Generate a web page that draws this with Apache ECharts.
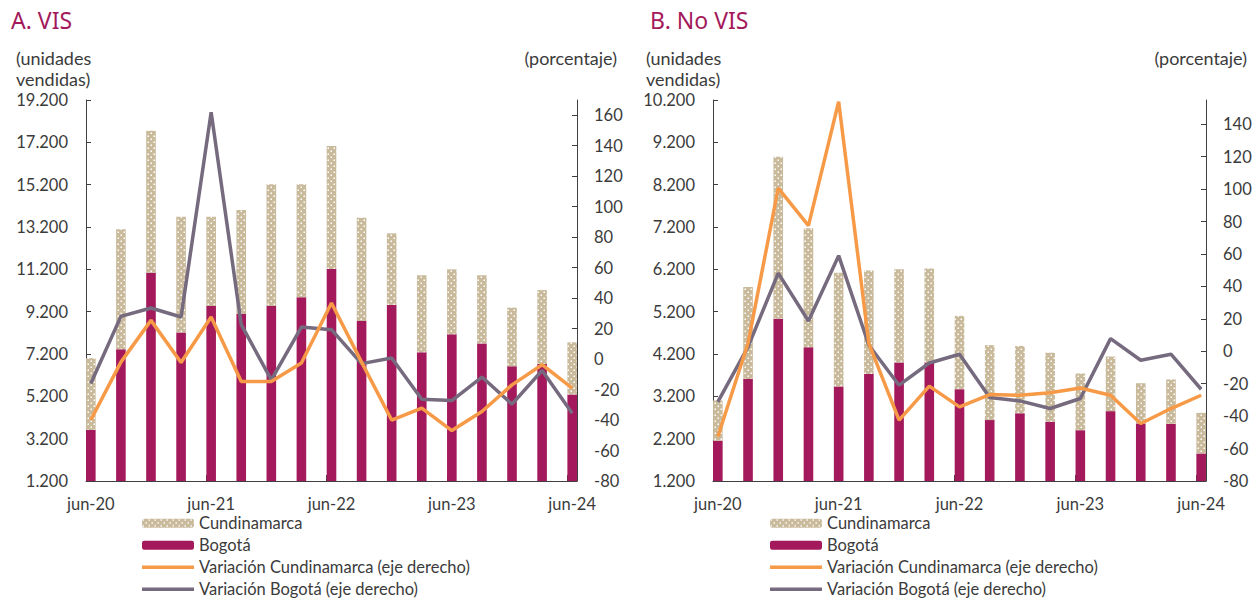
<!DOCTYPE html>
<html>
<head>
<meta charset="utf-8">
<script src="https://cdn.jsdelivr.net/npm/echarts@6/dist/echarts.min.js"></script>
<style>
html,body{margin:0;padding:0;background:#fff;}
#chart{width:1257px;height:599px;}
</style>
</head>
<body>
<div id="chart"></div>
<script>
// ---------- DATA ----------
const categories = ['jun-20','sep-20','dic-20','mar-21','jun-21','sep-21','dic-21','mar-22','jun-22','sep-22','dic-22','mar-23','jun-23','sep-23','dic-23','mar-24','jun-24'];
const xLabelIdx = [0, 4, 8, 12, 16];

// Panel A: VIS (unidades vendidas)
const bogotaA = [3610, 7420, 11040, 8210, 9470, 9090, 9470, 9880, 11220, 8760, 9520, 7280, 8130, 7700, 6620, 6730, 5290];
const cundinamarcaA = [3390, 5670, 6710, 5480, 4220, 4910, 5750, 5340, 5810, 4880, 3380, 3640, 3070, 3220, 2770, 3490, 2460];
const varCundA = [-40, -2, 25.4, -2.2, 27.6, -14.7, -14.7, -2.6, 36.8, -2, -40, -32.2, -46.9, -34.4, -16.9, -3.7, -19];
const varBogA = [-16, 28, 33.5, 27.6, 162, 22.6, -13.6, 21, 19.3, -3, 0.7, -26.3, -27.2, -11.8, -29.6, -7.5, -35.5];

// Panel B: No VIS (unidades vendidas)
const bogotaB = [2150, 3610, 5030, 4360, 3430, 3730, 4000, 4000, 3370, 2640, 2800, 2600, 2400, 2850, 2560, 2550, 1850];
const cundinamarcaB = [950, 2170, 3830, 2810, 2690, 2440, 2200, 2220, 1730, 1770, 1590, 1630, 1340, 1290, 950, 1050, 960];
const varCundB = [-52.7, 5, 100.7, 77.5, 154, 4.7, -42.5, -21.5, -34.3, -26.7, -27.1, -25.6, -22.6, -27.1, -44.5, -35.3, -27.1];
const varBogB = [-31.2, 2.7, 48.2, 18.7, 59, 3.7, -20.9, -7.2, -1.8, -28.5, -30.6, -35.3, -29.1, 7.8, -5.5, -1.8, -23.4];

// Tick values
const leftTicksA = [1200, 3200, 5200, 7200, 9200, 11200, 13200, 15200, 17200, 19200];
const rightTicksA = [-80, -60, -40, -20, 0, 20, 40, 60, 80, 100, 120, 140, 160];
const leftTicksB = [1200, 2200, 3200, 4200, 5200, 6200, 7200, 8200, 9200, 10200];
const rightTicksB = [-80, -60, -40, -20, 0, 20, 40, 60, 80, 100, 120, 140];

const legendNames = ['Cundinamarca', 'Bogotá', 'Variación Cundinamarca (eje derecho)', 'Variación Bogotá (eje derecho)'];

// ---------- STYLE ----------
const C_BOG = '#A3195B';
const C_TAN = '#C9BA9C';
const C_ORANGE = '#F79A48';
const C_GRAY = '#766A7E';
const C_TEXT = '#3b3b3b';
const C_AXIS = '#404040';
const FONT = 'Lato';

function makePattern() {
  const c = document.createElement('canvas');
  c.width = 6; c.height = 6;
  const g = c.getContext('2d');
  g.fillStyle = C_TAN; g.fillRect(0, 0, 6, 6);
  g.fillStyle = '#ffffff';
  g.fillRect(0.5, 0.5, 1.5, 1.5);
  g.fillRect(3.5, 3.5, 1.5, 1.5);
  return c;
}
const tanPattern = { image: makePattern(), repeat: 'repeat' };

const fmtThousands = v => String(v).replace(/\B(?=(\d{3})+(?!\d))/g, '.');

const XPAD = 0.16;
const N = categories.length;
// Panel frames (axis box) and inner data area (first/last bar centre)
const frames = [
  { left: 86, top: 100, width: 491, height: 381 },
  { left: 713, top: 100, width: 493, height: 381 }
];
function innerGrid(f) {
  const step = f.width / (N - 1 + 2 * XPAD);
  return { left: f.left + XPAD * step, top: f.top, width: (N - 1) * step, height: f.height };
}

function frameXAxis(gridIndex) {
  return {
    type: 'value', gridIndex, min: -XPAD, max: N - 1 + XPAD,
    splitLine: { show: false },
    axisLine: { show: true, onZero: false, lineStyle: { color: C_AXIS, width: 1 } },
    axisTick: { show: true, inside: true, length: 6, lineStyle: { color: C_AXIS },
      customValues: xLabelIdx.slice(1).map(i => i - XPAD) },
    axisLabel: { show: true, customValues: xLabelIdx, margin: 14.5, color: C_TEXT,
      fontFamily: FONT, fontSize: 16.5, lineHeight: 16,
      formatter: v => categories[Math.round(v)] }
  };
}
function dataXAxis(gridIndex) {
  return { type: 'category', gridIndex, data: categories, boundaryGap: false, show: false };
}
function frameYAxis(gridIndex, position, min, max, ticks, isLeft) {
  return {
    type: 'value', gridIndex, position, min, max,
    splitLine: { show: false },
    axisLine: { show: true, onZero: false, lineStyle: { color: C_AXIS, width: 1 } },
    axisTick: { show: true, inside: true, length: 5, lineStyle: { color: C_AXIS }, customValues: ticks },
    axisLabel: { show: true, customValues: ticks, margin: isLeft ? 18 : 17, color: C_TEXT,
      fontFamily: FONT, fontSize: 16.5,
      formatter: v => isLeft ? fmtThousands(v) : String(v) }
  };
}
function dataYAxis(gridIndex, position, min, max) {
  return { type: 'value', gridIndex, position, min, max, show: false, splitLine: { show: false } };
}

function panelSeries(xi, yl, yr, stack, bog, cund, vc, vb) {
  return [
    { name: 'Bogotá', type: 'bar', xAxisIndex: xi, yAxisIndex: yl, stack, barWidth: 9.6, clip: true,
      itemStyle: { color: C_BOG }, data: bog, z: 2 },
    { name: 'Cundinamarca', type: 'bar', xAxisIndex: xi, yAxisIndex: yl, stack, barWidth: 9.6, clip: true,
      itemStyle: { color: tanPattern }, data: cund, z: 2 },
    { name: 'Variación Cundinamarca (eje derecho)', type: 'line', xAxisIndex: xi, yAxisIndex: yr,
      symbol: 'none', showSymbol: false, lineStyle: { color: C_ORANGE, width: 3.5 }, itemStyle: { color: C_ORANGE },
      data: vc, z: 4 },
    { name: 'Variación Bogotá (eje derecho)', type: 'line', xAxisIndex: xi, yAxisIndex: yr,
      symbol: 'none', showSymbol: false, lineStyle: { color: C_GRAY, width: 3.5 }, itemStyle: { color: C_GRAY },
      data: vb, z: 3 }
  ];
}

const lineIcon = 'path://M0 0H52V3.6H0Z';
function legendCfg(left) {
  return {
    data: [
      { name: legendNames[0] },
      { name: legendNames[1] },
      { name: legendNames[2], icon: lineIcon },
      { name: legendNames[3], icon: lineIcon }
    ],
    orient: 'vertical', left, top: 513.7, height: 120, itemGap: 3,
    itemWidth: 52, itemHeight: 9, padding: 0, selectedMode: false,
    textStyle: { color: C_TEXT, fontFamily: FONT, fontSize: 16.5, lineHeight: 19 }
  };
}

const titleStyle = { fontFamily: 'Noto Sans', fontSize: 23, fontWeight: 'normal', color: C_BOG, lineHeight: 23 };
const nameStyle = { fontFamily: FONT, fontSize: 18, fontWeight: 'normal', color: C_TEXT, lineHeight: 21 };

const option = {
  animation: false,
  backgroundColor: '#ffffff',
  title: [
    { text: 'A. VIS', left: 11, top: 8, padding: 0, textStyle: titleStyle },
    { text: '(unidades\nvendidas)', left: 16, top: 47, padding: 0, textStyle: nameStyle },
    { text: '(porcentaje)', right: 640, top: 47, padding: 0, textStyle: nameStyle },
    { text: 'B. No VIS', left: 650, top: 8, padding: 0, textStyle: titleStyle },
    { text: '(unidades\nvendidas)', left: 646, top: 47, padding: 0, textStyle: nameStyle },
    { text: '(porcentaje)', right: 10, top: 47, padding: 0, textStyle: nameStyle }
  ],
  legend: [legendCfg(142), legendCfg(770)],
  grid: [frames[0], frames[1], innerGrid(frames[0]), innerGrid(frames[1])],
  xAxis: [frameXAxis(0), frameXAxis(1), dataXAxis(2), dataXAxis(3)],
  yAxis: [
    frameYAxis(0, 'left', 1200, 19200, leftTicksA, true),
    frameYAxis(0, 'right', -80, 170, rightTicksA, false),
    frameYAxis(1, 'left', 1200, 10200, leftTicksB, true),
    frameYAxis(1, 'right', -80, 155, rightTicksB, false),
    dataYAxis(2, 'left', 1200, 19200),
    dataYAxis(2, 'right', -80, 170),
    dataYAxis(3, 'left', 1200, 10200),
    dataYAxis(3, 'right', -80, 155)
  ],
  series: [
    ...panelSeries(2, 4, 5, 'A', bogotaA, cundinamarcaA, varCundA, varBogA),
    ...panelSeries(3, 6, 7, 'B', bogotaB, cundinamarcaB, varCundB, varBogB)
  ]
};

const chart = echarts.init(document.getElementById('chart'), null, { renderer: 'svg' });
chart.setOption(option);
</script>
</body>
</html>
